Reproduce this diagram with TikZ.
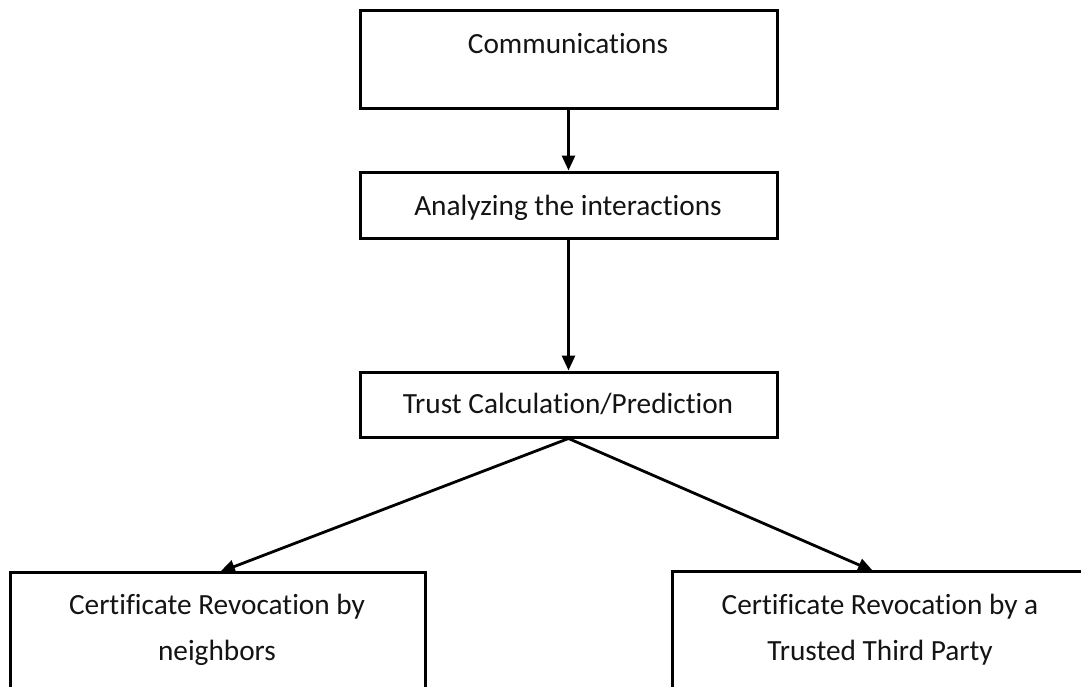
\documentclass[tikz,border=0pt]{standalone}
\usepackage{fontspec}
\setmainfont{Carlito}[Ligatures=NoCommon]
\usetikzlibrary{arrows.meta}
\begin{document}
\begin{tikzpicture}[x=1pt,y=-1pt,
  box/.style={draw=black, line width=3pt, fill=white, inner sep=0pt},
  lbl/.style={anchor=base, inner sep=0pt, font=\fontsize{29.3}{35}\selectfont, text=black!92},
  flow/.style={line width=2.8pt, -{Triangle[length=15pt,width=13pt]}}]
\useasboundingbox (0,0) rectangle (1081,686);
\clip (0,0) rectangle (1081,686);
\fill[white] (0,0) rectangle (1081,686);

% process boxes
\node[box, minimum width=417pt, minimum height=98pt] (comm) at (568.5,59) {};
\node[box, minimum width=417pt, minimum height=66pt] (anal) at (568.5,205) {};
\node[box, minimum width=417pt, minimum height=65pt] (trust) at (568.5,404.5) {};
\node[box, minimum width=415pt, minimum height=148pt] (neigh) at (217.5,646) {};
\node[box, minimum width=423pt, minimum height=149pt] (ttp) at (883.5,645.5) {};

% box texts
\node[lbl] (commT) at (568,53) {Communications};
\node[lbl] (analT) at (568,215) {Analyzing the interactions};
\node[lbl] (trustT) at (568,413) {Trust Calculation/Prediction};
\node[lbl] (neighT1) at (217,614) {Certificate Revocation by};
\node[lbl] (neighT2) at (217,660) {neighbors};
\node[lbl] (ttpT1) at (880,614) {Certificate Revocation by a};
\node[lbl] (ttpT2) at (880,660) {Trusted Third Party};

% arrow tips on the lower boxes
\coordinate (tipL) at (220,572);
\coordinate (tipR) at (873,571);

% connectors
\draw[flow] (comm.south) -- (anal.north);
\draw[flow] (anal.south) -- (trust.north);
\draw[flow] (trust.south) -- (tipL);
\draw[flow] (trust.south) -- (tipR);
\end{tikzpicture}
\end{document}
